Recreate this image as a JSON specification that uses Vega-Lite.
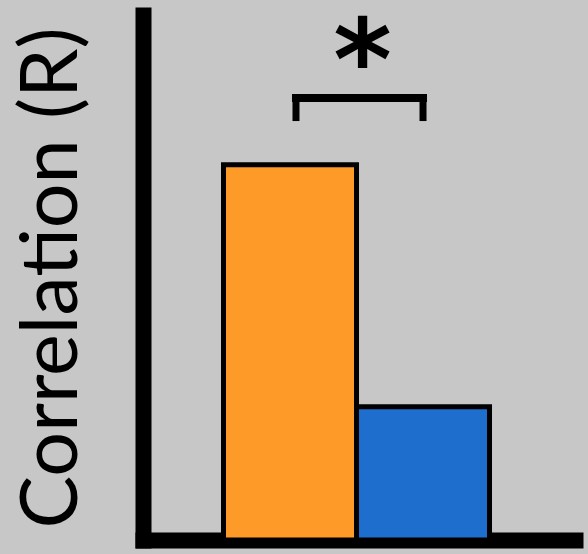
{
  "$schema": "https://vega.github.io/schema/vega-lite/v6.json",
  "width": 432,
  "height": 525,
  "autosize": {"type": "none"},
  "padding": {"left": 143, "top": 15, "right": 13, "bottom": 14},
  "background": "#c7c7c7",
  "config": {
    "view": {"stroke": null},
    "axis": {"grid": false, "ticks": false, "labels": false, "domainColor": "#000000", "domainWidth": 16, "domainCap": "square", "zindex": 1}
  },
  "datasets": {
    "bars": [
      {"group": "A", "R": 0.715},
      {"group": "B", "R": 0.254}
    ],
    "bracket": [
      {"from": "A", "to": "B", "top": 0.842, "bottom": 0.798, "label": "*", "labelY": 0.905}
    ]
  },
  "layer": [
    {
      "data": {"name": "bars"},
      "mark": {"type": "bar", "stroke": "#000000", "strokeWidth": 5},
      "encoding": {
        "x": {"field": "group", "type": "nominal", "scale": {"paddingInner": 0, "paddingOuter": 0.624, "align": 0.485}, "axis": {"title": null}},
        "y": {"field": "R", "type": "quantitative", "scale": {"domain": [0, 1]}, "axis": {"title": "Correlation (R)", "titleFont": "Lato", "titleFontSize": 79, "titleFontWeight": "normal", "titleColor": "#000000", "titlePadding": 50}},
        "color": {"field": "group", "type": "nominal", "scale": {"domain": ["A", "B"], "range": ["#fe9a27", "#1e6ecd"]}, "legend": null}
      }
    },
    {
      "data": {"name": "bracket"},
      "mark": {"type": "rule", "strokeWidth": 8, "strokeCap": "square", "color": "#000000"},
      "encoding": {
        "x": {"field": "from", "type": "nominal", "bandPosition": 0.545},
        "x2": {"field": "to", "bandPosition": 0.5},
        "y": {"field": "top", "type": "quantitative"}
      }
    },
    {
      "data": {"name": "bracket"},
      "mark": {"type": "rule", "strokeWidth": 7, "color": "#000000"},
      "encoding": {
        "x": {"field": "from", "type": "nominal", "bandPosition": 0.545},
        "y": {"field": "top", "type": "quantitative"},
        "y2": {"field": "bottom"}
      }
    },
    {
      "data": {"name": "bracket"},
      "mark": {"type": "rule", "strokeWidth": 7, "color": "#000000"},
      "encoding": {
        "x": {"field": "to", "type": "nominal", "bandPosition": 0.5},
        "y": {"field": "top", "type": "quantitative"},
        "y2": {"field": "bottom"}
      }
    },
    {
      "data": {"name": "bracket"},
      "mark": {"type": "text", "font": "DejaVu Sans", "fontSize": 112, "fontWeight": "bold", "baseline": "middle", "align": "center", "color": "#000000", "dx": 6},
      "encoding": {
        "x": {"field": "from", "type": "nominal", "bandPosition": 1},
        "y": {"field": "labelY", "type": "quantitative"},
        "text": {"field": "label"}
      }
    }
  ]
}
